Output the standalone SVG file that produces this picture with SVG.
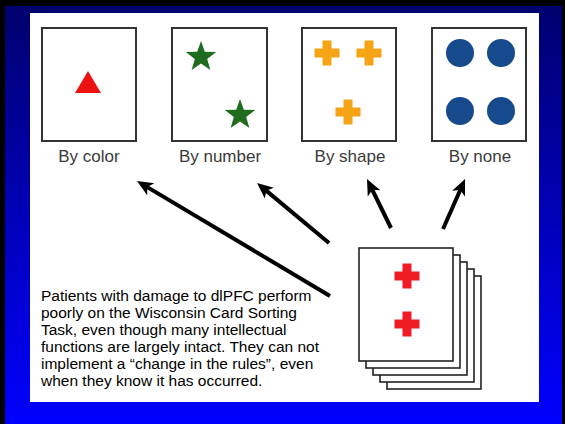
<svg xmlns="http://www.w3.org/2000/svg" width="565" height="424" viewBox="0 0 565 424">
  <defs>
    <linearGradient id="bg" x1="0" y1="0" x2="0" y2="1">
      <stop offset="0" stop-color="#00006e"/>
      <stop offset="0.5" stop-color="#0000b8"/>
      <stop offset="1" stop-color="#0000ff"/>
    </linearGradient>
    <path id="cross" d="M-4.5,-12.5 h9 v8 h8 v9 h-8 v8 h-9 v-8 h-8 v-9 h8 z"/>
    <path id="star" d="M0,-16 L3.82,-5.26 L15.22,-4.94 L6.18,2.01 L9.4,12.94 L0,6.5 L-9.4,12.94 L-6.18,2.01 L-15.22,-4.94 L-3.82,-5.26 Z"/>
    <marker id="ah" viewBox="-15 -15 30 30" markerWidth="30" markerHeight="30" refX="0" refY="0" orient="auto" markerUnits="userSpaceOnUse">
      <path d="M10,0 L-6,-7 L-2,0 L-6,7 Z" fill="#000"/>
    </marker>
  </defs>
  <style>
    .card { fill: #fff; stroke: #333; stroke-width: 2; }
    .stack { fill: #fff; stroke: #222; stroke-width: 1.6; }
    .label { font-family: "Liberation Sans", Arial, sans-serif; font-size: 17px; fill: #3a3a3a; text-anchor: middle; }
    .para { font-family: "Liberation Sans", Arial, sans-serif; font-size: 15.5px; fill: #000; }
    .arrow { stroke: #000; stroke-width: 4; fill: none; marker-end: url(#ah); }
    .orange { fill: #f4a414; }
    .red { fill: #ee1c24; }
    .green { fill: #1f6b1f; }
    .blue { fill: #174a8c; }
  </style>

  <rect x="0" y="0" width="565" height="424" fill="#000"/>
  <rect x="5" y="6" width="557" height="418" fill="url(#bg)"/>
  <rect x="30" y="13" width="509" height="389" fill="#fff"/>

  <g id="card-color">
    <rect class="card" x="42" y="28" width="94" height="113"/>
    <polygon fill="#ee1111" points="88,71 101,93 75,93"/>
    <text class="label" x="89" y="162">By color</text>
  </g>

  <g id="card-number">
    <rect class="card" x="172" y="28" width="95" height="113"/>
    <use href="#star" class="green" x="201" y="57"/>
    <use href="#star" class="green" x="240" y="115"/>
    <text class="label" x="220" y="162">By number</text>
  </g>

  <g id="card-shape">
    <rect class="card" x="302" y="28" width="94" height="113"/>
    <use href="#cross" class="orange" x="327" y="53"/>
    <use href="#cross" class="orange" x="369" y="53"/>
    <use href="#cross" class="orange" x="348" y="112"/>
    <text class="label" x="350" y="162">By shape</text>
  </g>

  <g id="card-none">
    <rect class="card" x="432" y="28" width="94" height="113"/>
    <circle class="blue" cx="460" cy="53" r="14"/>
    <circle class="blue" cx="501" cy="53" r="14"/>
    <circle class="blue" cx="460" cy="111" r="14"/>
    <circle class="blue" cx="501" cy="111" r="14"/>
    <text class="label" x="480" y="162">By none</text>
  </g>

  <g id="deck">
    <rect class="stack" x="387" y="276" width="94" height="113"/>
    <rect class="stack" x="380" y="269" width="94" height="113"/>
    <rect class="stack" x="373" y="262" width="94" height="113"/>
    <rect class="stack" x="366" y="255" width="94" height="113"/>
    <rect class="stack" x="359" y="248" width="94" height="113"/>
    <use href="#cross" class="red" x="407" y="276"/>
    <use href="#cross" class="red" x="407" y="324"/>
  </g>

  <g id="connectors">
    <line class="arrow" x1="330" y1="296" x2="145.6" y2="186.1"/>
    <line class="arrow" x1="329" y1="243" x2="264.7" y2="189.4"/>
    <line class="arrow" x1="391" y1="228" x2="371.4" y2="188"/>
    <line class="arrow" x1="443" y1="229" x2="461" y2="188.2"/>
  </g>

  <g id="caption">
    <text class="para" x="41" y="301">Patients with damage to dlPFC perform</text>
    <text class="para" x="41" y="318">poorly on the Wisconsin Card Sorting</text>
    <text class="para" x="41" y="335">Task, even though many intellectual</text>
    <text class="para" x="41" y="352">functions are largely intact. They can not</text>
    <text class="para" x="41" y="369">implement a “change in the rules”, even</text>
    <text class="para" x="41" y="386">when they know it has occurred.</text>
  </g>
</svg>
